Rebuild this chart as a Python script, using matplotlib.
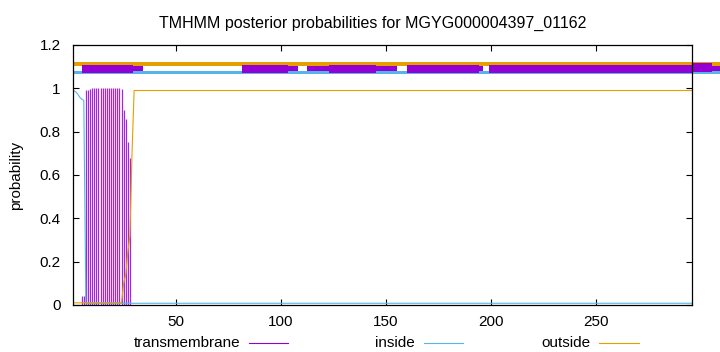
import numpy as np
import matplotlib
matplotlib.use("Agg")
import matplotlib.pyplot as plt
from matplotlib.patches import Rectangle
from matplotlib.lines import Line2D

plt.rcParams['font.family'] = ['Liberation Sans', 'DejaVu Sans']

# ── Sequence / posterior data ───────────────────────────────────
L = 296
pos = np.arange(1, L + 1)

tm_head = [0, 0, 0, 0, 0.04, 0.04, 0.992, 0.992, 0.997,
           1, 1, 1, 1, 1, 1, 1, 1, 1, 1, 1, 1, 1, 1,
           0.997, 0.90, 0.858, 0.754, 0.677]
inside_head = [0.99, 0.985, 0.975, 0.96, 0.95, 0.945]
outside_head = [0.01] * 23 + [0.01, 0.10, 0.14, 0.245, 0.32, 0.70]

tm = np.array(tm_head + [0.0] * (L - len(tm_head)))
inside = np.array(inside_head + [0.008] * (L - len(inside_head)))
outside = np.array(outside_head + [0.99] * (L - len(outside_head)))

# top topology bars: (start, end) in sequence units
bar_end = 309.3
tm_thick = [(5.0, 29.3), (81.3, 103.2), (123.1, 145.3), (160.1, 194.3), (199.4, 296.7)]
tm_thin = [(29.3, 34.1), (103.2, 108.0), (112.3, 123.1), (145.3, 155.2),
           (194.3, 196.2), (305.4, 309.3)]
tm_tall = [(296.7, 305.4)]

C_TM = '#9400d3'
C_IN = '#56b4e9'
C_OUT = '#e69f00'

fig = plt.figure(figsize=(7.2, 3.52), dpi=100)
ax = fig.add_axes([73.3 / 720, 1 - 305 / 352, (692 - 73.3) / 720, (305 - 45) / 352])

ax.vlines(pos, 0, tm, colors=C_TM, lw=0.9, alpha=0.85)
ax.plot(pos, inside, color=C_IN, lw=0.8)
ax.plot(pos, outside, color=C_OUT, lw=0.8)

# topology bars above the curves
ax.add_patch(Rectangle((1, 1.1045), bar_end - 1, 0.0155, color=C_OUT, lw=0, clip_on=False))
ax.add_patch(Rectangle((1, 1.066), bar_end - 1, 0.014, color=C_IN, lw=0, clip_on=False))
for a, b in tm_thin:
    ax.add_patch(Rectangle((a, 1.080), b - a, 0.0245, color=C_TM, lw=0, clip_on=False))
for a, b in tm_thick:
    ax.add_patch(Rectangle((a, 1.069), b - a, 0.039, color=C_TM, lw=0, clip_on=False))
for a, b in tm_tall:
    ax.add_patch(Rectangle((a, 1.077), b - a, 0.038, color=C_TM, lw=0, clip_on=False))

ax.set_xlim(1, L)
ax.set_ylim(0, 1.2)
ax.set_xticks([50, 100, 150, 200, 250])
ax.set_yticks([0, 0.2, 0.4, 0.6, 0.8, 1.0, 1.2])
ax.set_yticklabels(['0', '0.2', '0.4', '0.6', '0.8', '1', '1.2'])
ax.tick_params(direction='in', length=4.5, width=0.8, labelsize=11,
               top=True, right=True, colors='black')
ax.tick_params(axis='y', pad=9)
ax.tick_params(axis='x', pad=7)
for s in ax.spines.values():
    s.set_linewidth(0.9)
    s.set_zorder(5)
ax.set_ylabel('probability', fontsize=11, labelpad=12)
ax.set_title('TMHMM posterior probabilities for MGYG000004397_01162',
             fontsize=11.5, pad=12, x=0.484)

# gnuplot-style key along the bottom
ky = 1 - 343 / 352
keys = [('transmembrane', C_TM, 240, 249, 288),
        ('inside', C_IN, 415, 424, 463),
        ('outside', C_OUT, 590, 599, 638.5)]
for label, col, tx, x0, x1 in keys:
    fig.text(tx / 720, ky, label, ha='right', va='center', fontsize=11)
    fig.add_artist(Line2D([x0 / 720, x1 / 720], [ky, ky], color=col, lw=0.8,
                          transform=fig.transFigure))

fig.savefig('out.png', dpi=100)
